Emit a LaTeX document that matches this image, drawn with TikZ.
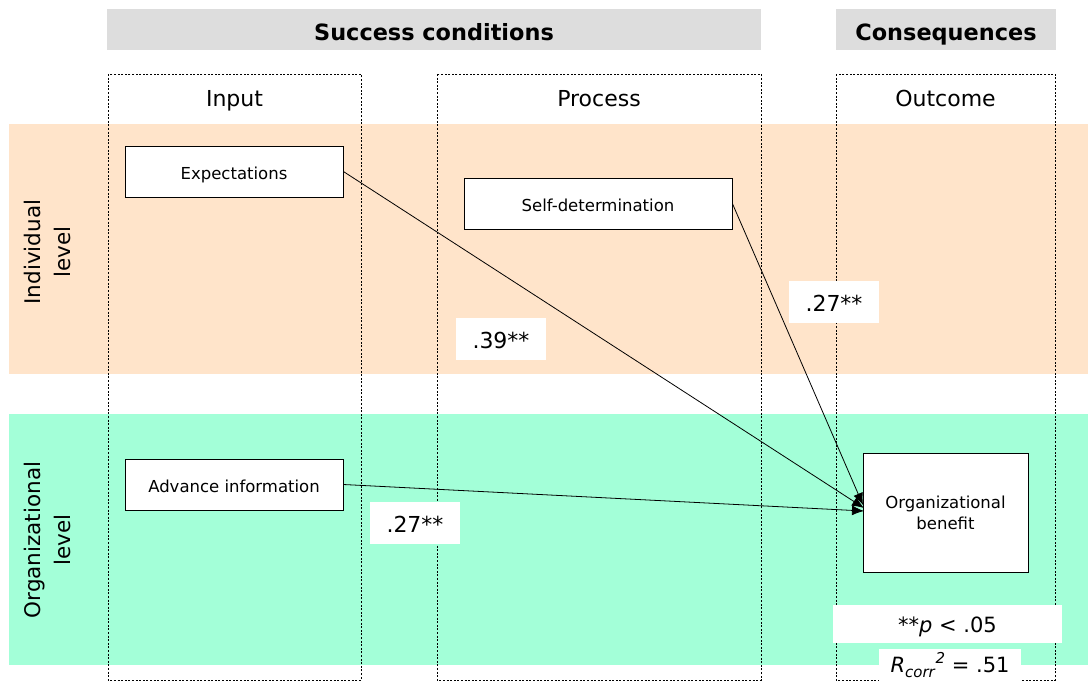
\documentclass[tikz,border=0pt]{standalone}
\usepackage{fontspec}
\setmainfont{DejaVu Sans}
\usetikzlibrary{arrows.meta}
\definecolor{indband}{RGB}{255,228,202}
\definecolor{orgband}{RGB}{163,255,216}
\definecolor{headgray}{RGB}{221,221,221}
\begin{document}
\begin{tikzpicture}[x=1pt,y=-1pt,
  header/.style={fill=headgray, inner sep=0pt, text height=21.4pt, text depth=0pt,
    font=\fontsize{22.4}{26}\selectfont\bfseries},
  column/.style={draw, dash pattern=on 2pt off 1.6pt, line width=0.8pt},
  colhead/.style={inner sep=0pt, text height=16pt, text depth=0pt, font=\fontsize{22}{26}\selectfont},
  factor/.style={draw, fill=white, line width=0.8pt, inner sep=0pt, align=center,
    font=\fontsize{16.5}{21}\selectfont},
  oneline/.style={text height=15pt, text depth=0pt},
  coef/.style={fill=white, inner sep=0pt, text height=19.5pt, text depth=0pt,
    font=\fontsize{22}{26}\selectfont},
  note/.style={fill=white, inner sep=0pt, font=\fontsize{21}{25}\selectfont},
  effect/.style={line width=0.8pt, -{Latex[length=12pt,width=10pt]}},
  level/.style={rotate=90, align=center, inner sep=0pt, font=\fontsize{21.5}{30}\selectfont}
]
\useasboundingbox (0,0) rectangle (1088,681);

% level bands
\fill[indband] (9,124) rectangle (1088,374);
\fill[orgband] (9,414) rectangle (1088,665);
\node[level] (indlab) at (47,252) {Individual\\level};
\node[level] (orglab) at (47,540) {Organizational\\level};

% headers
\node[header, minimum width=654pt, minimum height=41pt] (succ) at (434,29.5) {Success conditions};
\node[header, minimum width=220pt, minimum height=41pt] (cons) at (946,29.5) {Consequences};

% columns
\draw[column] (108,74) rectangle (361,680);
\draw[column] (437,74) rectangle (761,680);
\draw[column] (836,74) rectangle (1055,680);
\node[colhead] (input) at (234.5,98.7) {Input};
\node[colhead] (process) at (599,98.3) {Process};
\node[colhead] (outcome) at (945.5,98.5) {Outcome};

% factors
\node[factor, oneline, minimum width=218pt, minimum height=51pt] (exp) at (234,171.5) {Expectations};
\node[factor, oneline, minimum width=268pt, minimum height=51pt] (self) at (598,203.5) {Self-determination};
\node[factor, oneline, minimum width=218pt, minimum height=51pt] (adv) at (234,484.5) {Advance information};
\node[factor, minimum width=165pt, minimum height=119pt] (ben) at (945.5,512.5) {Organizational\\benefit};

% arrow targets on the outcome box
\coordinate (tself) at (863,505);
\coordinate (texp) at (864,508);
\coordinate (tadv) at (864,511);

% effects
\draw[effect] (exp.east) -- (texp);
\draw[effect] (self.east) -- (tself);
\draw[effect] (adv.east) -- (tadv);

% coefficients
\node[coef, minimum width=90pt, minimum height=42pt] (c1) at (501,338.5) {.39**};
\node[coef, minimum width=90pt, minimum height=42pt] (c2) at (834,301.5) {.27**};
\node[coef, minimum width=90pt, minimum height=42pt] (c3) at (415,522.5) {.27**};

% notes
\node[note, text height=16.7pt, text depth=0pt, minimum width=229pt, minimum height=38pt] (sig)
  at (947.5,624) {**\textit{p} < .05};
\fill[white] (879,649) rectangle (1021,681);
\node[note, text height=15.3pt, text depth=0pt] (rsq) at (950,665)
  {\textit{R}\raisebox{-0.4ex}{\fontsize{15}{18}\selectfont\textit{corr}}\raisebox{0.8ex}{\fontsize{15}{18}\selectfont\textit{2}}\ = .51};
\end{tikzpicture}
\end{document}
